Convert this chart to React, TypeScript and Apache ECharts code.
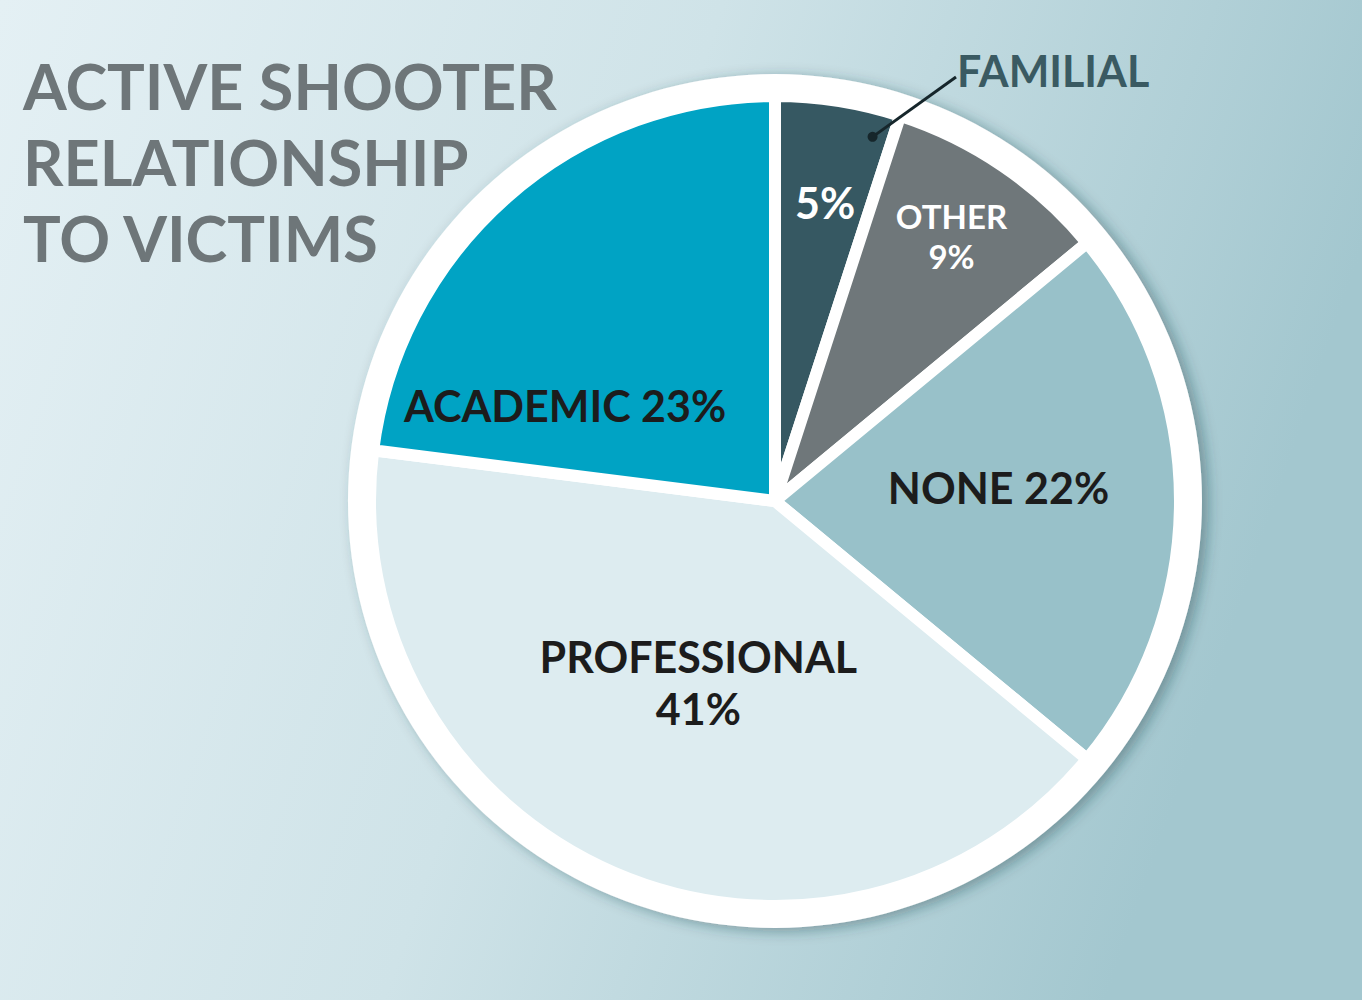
import React, { useEffect, useRef } from 'react';
import * as echarts from 'echarts';

// ---- data ----
const categories = ['FAMILIAL', 'OTHER', 'NONE', 'PROFESSIONAL', 'ACADEMIC'];
const shares = [5, 9, 22, 41, 23];
const titleLines = ['ACTIVE SHOOTER', 'RELATIONSHIP', 'TO VICTIMS'];

// ---- styles ----
const sliceColors = ['#365862', '#6f777a', '#98c1c9', '#ddecf0', '#00a3c4'];
const labelColors = ['#ffffff', '#ffffff', '#1c1c1c', '#1c1c1c', '#1c1c1c'];
const labelSizes = [43, 33, 43, 43, 43];
const labelLineHeights = [52, 40, 52, 52, 52];
const labelModes = ['pct', 'stack', 'inline', 'stack', 'inline'];
const labelShift: [number, number][] = [[18, -96], [61, -95], [18, -14], [5, -7], [-74, 59]];

const CX = 775;
const CY = 501;
const R = 405;
const R_RING = 427;

export default function App() {
  const ref = useRef<HTMLDivElement>(null);
  useEffect(() => {
    if (!ref.current) return;
    const chart = echarts.init(ref.current, null, { renderer: 'svg' });

    const toRad = Math.PI / 180;
    const dotAngle = 15 * toRad;
    const dotR = 377;
    const dotX = CX + dotR * Math.sin(dotAngle);
    const dotY = CY - dotR * Math.cos(dotAngle);

    chart.setOption({
      animation: false,
      backgroundColor: {
        type: 'linear', x: 0, y: 0, x2: 1, y2: 0.25,
        colorStops: [
          { offset: 0, color: '#e4f0f4' },
          { offset: 0.5, color: '#cfe3e8' },
          { offset: 1, color: '#a3c7cf' },
        ],
      },
      title: {
        text: titleLines.join('\n'),
        left: 23,
        top: 47,
        padding: 0,
        textStyle: {
          fontFamily: 'Lato',
          fontWeight: 'bold',
          fontSize: 63,
          lineHeight: 76,
          color: '#6e7679',
        },
      },
      series: [
        {
          type: 'pie',
          center: [CX, CY],
          radius: R_RING,
          silent: true,
          z: 1,
          label: { show: false },
          labelLine: { show: false },
          emphasis: { disabled: true },
          data: [{
            value: 1, name: 'ring',
            itemStyle: {
              color: '#ffffff',
              shadowBlur: 14,
              shadowOffsetX: 6,
              shadowOffsetY: 3,
              shadowColor: 'rgba(20,60,70,0.4)',
            },
          }],
        },
        {
          type: 'pie',
          center: [CX, CY],
          radius: R,
          startAngle: 90,
          clockwise: true,
          silent: true,
          z: 2,
          minShowLabelAngle: 0,
          avoidLabelOverlap: false,
          emphasis: { disabled: true },
          itemStyle: { borderColor: '#ffffff', borderWidth: 12 },
          labelLine: { show: false },
          label: {
            show: true,
            position: 'inside',
            fontFamily: 'Lato',
            fontWeight: 'bold',
            formatter: (p: any) => {
              const m = labelModes[p.dataIndex];
              if (m === 'pct') return `${p.value}%`;
              if (m === 'stack') return `${p.name}\n${p.value}%`;
              return `${p.name} ${p.value}%`;
            },
          },
          labelLayout: (p: any) => ({
            dx: labelShift[p.dataIndex][0],
            dy: labelShift[p.dataIndex][1],
          }),
          data: categories.map((name, i) => ({
            name,
            value: shares[i],
            itemStyle: { color: sliceColors[i] },
            label: {
              color: labelColors[i],
              fontSize: labelSizes[i],
              lineHeight: labelLineHeights[i],
            },
          })),
        },
      ],
      graphic: [
        {
          type: 'line',
          z: 10,
          shape: { x1: dotX, y1: dotY, x2: 956, y2: 77 },
          style: { stroke: '#16262b', lineWidth: 3 },
          silent: true,
        },
        {
          type: 'circle',
          z: 10,
          shape: { cx: dotX, cy: dotY, r: 5 },
          style: { fill: '#16262b' },
          silent: true,
        },
        {
          type: 'text',
          z: 10,
          x: 957,
          y: 70,
          style: {
            text: categories[0],
            fill: '#3a5a62',
            font: 'bold 43px Lato',
            verticalAlign: 'middle',
            align: 'left',
          },
          silent: true,
        },
      ],
    });
    return () => chart.dispose();
  }, []);
  return (
    <div
      ref={ref}
      style={{ position: 'absolute', left: 0, top: 0, width: 1362, height: 1000 }}
    />
  );
}
